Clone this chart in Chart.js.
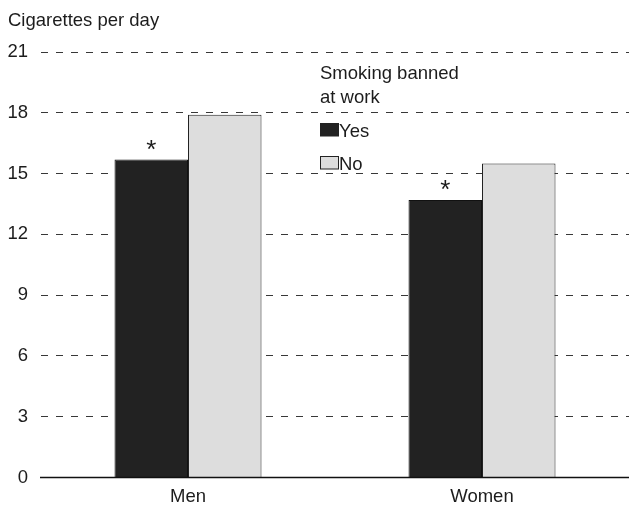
<!DOCTYPE html>
<html>
<head>
<meta charset="utf-8">
<script src="https://cdn.jsdelivr.net/npm/chart.js@4/dist/chart.umd.min.js"></script>
<style>
  html, body { margin: 0; padding: 0; background: #fff; }
  #wrap { width: 629px; height: 510px; }
</style>
</head>
<body>
<div id="wrap"><canvas id="c" width="629" height="510"></canvas></div>
<script>
// Average cigarettes smoked per day, by sex and workplace smoking ban
const categories = ['Men', 'Women'];
const bannedYes = [15.7, 13.7];
const bannedNo = [17.9, 15.5];
const significant = [true, true];   // asterisk over the "Yes" bar
const yTicks = [0, 3, 6, 9, 12, 15, 18, 21];

const FONT = "'Liberation Sans', Arial, Helvetica, sans-serif";
const FONT_SIZE = 18.5;
const INK = '#1c1c1c';

const overlay = {
  id: 'overlay',
  afterDraw(chart) {
    const ctx = chart.ctx;
    const y = chart.scales.y;
    const base = y.getPixelForValue(0);
    ctx.save();

    // axis title
    ctx.fillStyle = INK;
    ctx.font = FONT_SIZE + 'px ' + FONT;
    ctx.textAlign = 'left';
    ctx.textBaseline = 'alphabetic';
    ctx.fillText('Cigarettes per day', 8, 26);

    // solid baseline
    ctx.strokeStyle = '#111111';
    ctx.lineWidth = 1.5;
    ctx.beginPath();
    ctx.moveTo(40, base);
    ctx.lineTo(629, base);
    ctx.stroke();

    // significance markers
    const meta = chart.getDatasetMeta(0);
    ctx.font = '26px ' + FONT;
    ctx.textAlign = 'center';
    meta.data.forEach((bar, i) => {
      if (significant[i]) ctx.fillText('*', bar.x, bar.y - 1.5);
    });

    // legend
    ctx.font = FONT_SIZE + 'px ' + FONT;
    ctx.textAlign = 'left';
    ctx.fillText('Smoking banned', 320, 78.5);
    ctx.fillText('at work', 320, 103);
    chart.data.datasets.forEach((ds, i) => {
      const top = 123.5 + i * 33;
      ctx.fillStyle = ds.backgroundColor;
      ctx.fillRect(320.5, top, 18, 12.5);
      ctx.strokeStyle = '#222222';
      ctx.lineWidth = 1;
      ctx.strokeRect(320.5, top, 18, 12.5);
      ctx.fillStyle = INK;
      ctx.fillText(ds.label, 339, top + 13);
    });
    ctx.restore();
  }
};

new Chart(document.getElementById('c'), {
  type: 'bar',
  data: {
    labels: categories,
    datasets: [
      { label: 'Yes', data: bannedYes, backgroundColor: '#222222', borderColor: '#111111', borderWidth: 1 },
      { label: 'No', data: bannedNo, backgroundColor: '#dddddd', borderColor: '#222222', borderWidth: 1 }
    ]
  },
  options: {
    responsive: false,
    animation: false,
    devicePixelRatio: 1,
    layout: { padding: { top: 52, right: 0, left: 0, bottom: 0 } },
    datasets: { bar: { categoryPercentage: 0.5, barPercentage: 1.0 } },
    plugins: { legend: { display: false }, tooltip: { enabled: false } },
    scales: {
      x: {
        afterFit(scale) { scale.height = 32.5; },
        grid: { display: false, drawTicks: false },
        border: { display: false },
        ticks: { color: INK, font: { family: FONT, size: FONT_SIZE }, padding: 8 }
      },
      y: {
        min: 0, max: 21,
        afterFit(scale) { scale.width = 41; },
        afterBuildTicks(scale) { scale.ticks = yTicks.map(v => ({ value: v })); },
        grid: { color: '#383838', lineWidth: 1, drawTicks: false },
        border: { display: false, dash: [7, 8] },
        ticks: { color: INK, font: { family: FONT, size: FONT_SIZE }, padding: 13 }
      }
    }
  },
  plugins: [overlay]
});
</script>
</body>
</html>
